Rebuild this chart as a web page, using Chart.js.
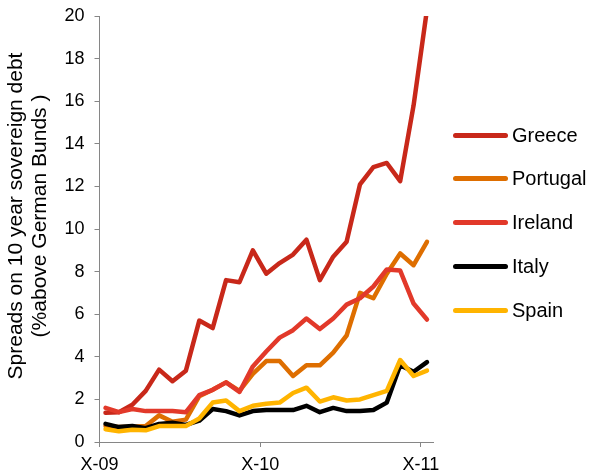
<!DOCTYPE html>
<html>
<head>
<meta charset="utf-8">
<script src="https://cdn.jsdelivr.net/npm/chart.js@4.4.1/dist/chart.umd.min.js"></script>
<style>
  html, body { margin: 0; padding: 0; background: #fff; }
  #wrap { position: relative; width: 591px; height: 475px; }
  #legend { position: absolute; left: 453px; top: 0; font-family: "Liberation Sans", Arial, sans-serif; font-size: 20px; color: #000; }
  .item { position: absolute; left: 0; height: 44px; display: flex; align-items: center; white-space: nowrap; }
  .swatch { width: 55px; height: 5px; border-radius: 3px; margin-right: 4px; }
</style>
</head>
<body>
<div id="wrap">
  <canvas id="chart"></canvas>
  <div id="legend"></div>
</div>
<script>
// monthly spreads over German Bunds, Oct 2009 - Oct 2011
const months = ["Oct-09","Nov-09","Dec-09","Jan-10","Feb-10","Mar-10","Apr-10","May-10","Jun-10",
  "Jul-10","Aug-10","Sep-10","Oct-10","Nov-10","Dec-10","Jan-11","Feb-11","Mar-11","Apr-11",
  "May-11","Jun-11","Jul-11","Aug-11","Sep-11","Oct-11"];
const tickLabels = ["X-09", "X-10", "X-11"];

const greece   = [1.37,1.4,1.75,2.4,3.4,2.85,3.35,5.7,5.35,7.6,7.5,9.0,7.9,8.4,8.8,9.5,7.6,8.7,9.4,12.1,12.9,13.1,12.25,15.8,20.3];
const portugal = [0.75,0.7,0.72,0.75,1.25,0.95,1.05,2.15,2.45,2.8,2.4,3.2,3.8,3.8,3.1,3.6,3.6,4.2,5.0,7.0,6.75,7.9,8.85,8.3,9.4];
const ireland  = [1.6,1.4,1.55,1.45,1.45,1.45,1.4,2.2,2.45,2.8,2.35,3.55,4.25,4.9,5.25,5.8,5.3,5.8,6.45,6.75,7.3,8.1,8.05,6.5,5.75];
const italy    = [0.85,0.7,0.75,0.65,0.85,0.9,0.8,1.0,1.55,1.45,1.25,1.45,1.5,1.5,1.5,1.7,1.4,1.6,1.45,1.45,1.5,1.85,3.6,3.3,3.75];
const spain    = [0.6,0.5,0.58,0.55,0.75,0.75,0.75,1.1,1.85,1.95,1.45,1.7,1.8,1.85,2.3,2.55,1.9,2.1,1.95,2.0,2.2,2.4,3.85,3.1,3.35];

const seriesNames = ["Greece", "Portugal", "Ireland", "Italy", "Spain"];
const seriesValues = [greece, portugal, ireland, italy, spain];
const seriesColors = ["#C8281A", "#DE6E00", "#E2392A", "#000000", "#FFB400"];

const FONT = "'Liberation Sans', Arial, sans-serif";
const MID_MONTH = 0.45; // points sit mid-month on the date axis

const datasets = seriesNames.map((name, i) => ({
  label: name,
  data: seriesValues[i].map((v, m) => ({ x: m + MID_MONTH, y: v })),
  borderColor: seriesColors[i],
  backgroundColor: seriesColors[i],
  borderWidth: 4.5,
  pointRadius: 0,
  tension: 0,
  borderCapStyle: "round",
  borderJoinStyle: "round",
  clip: 0,
  order: seriesNames.length - i,
}));

// y axis title, two rotated lines
const yTitle = {
  id: "yTitle",
  afterDraw(chart) {
    const ctx = chart.ctx;
    ctx.save();
    ctx.font = "21px " + FONT;
    ctx.fillStyle = "#000";
    ctx.textAlign = "center";
    ctx.textBaseline = "middle";
    ctx.translate(16, 216);
    ctx.rotate(-Math.PI / 2);
    ctx.fillText("Spreads on 10 year sovereign debt", 0, 0);
    ctx.fillText("(%above German Bunds )", 0, 24);
    ctx.restore();
  },
};

new Chart(document.getElementById("chart"), {
  type: "line",
  data: { datasets },
  options: {
    responsive: true,
    maintainAspectRatio: false,
    animation: false,
    layout: { padding: { top: 16, right: 158, bottom: 0, left: 0 } },
    plugins: { legend: { display: false }, tooltip: { enabled: false } },
    scales: {
      x: {
        type: "linear",
        min: 0,
        max: 24.9,
        afterBuildTicks: (s) => { s.ticks = tickLabels.map((t, i) => ({ value: i * 12 })); },
        afterFit: (s) => { s.height = 33; },
        border: { color: "#868686", width: 1 },
        grid: { drawOnChartArea: false, drawTicks: true, tickLength: 5, color: "#868686" },
        ticks: {
          autoSkip: false,
          maxRotation: 0,
          padding: 7,
          color: "#000",
          font: { family: FONT, size: 18 },
          callback: (v) => tickLabels[Math.round(v / 12)],
        },
      },
      y: {
        min: 0,
        max: 20,
        afterFit: (s) => { s.width = 99.5; s.paddingTop = 0; s.paddingBottom = 0; },
        border: { color: "#868686", width: 1 },
        grid: { drawOnChartArea: false, drawTicks: true, tickLength: 5, color: "#868686" },
        ticks: { stepSize: 2, padding: 10, color: "#000", font: { family: FONT, size: 18 } },
      },
    },
  },
  plugins: [yTitle],
});

// legend
const legend = document.getElementById("legend");
seriesNames.forEach((name, i) => {
  const row = document.createElement("div");
  row.className = "item";
  row.style.top = (135 - 22 + 43.9 * i) + "px";
  row.innerHTML = '<span class="swatch" style="background:' + seriesColors[i] + '"></span>' + name;
  legend.appendChild(row);
});
</script>
</body>
</html>
